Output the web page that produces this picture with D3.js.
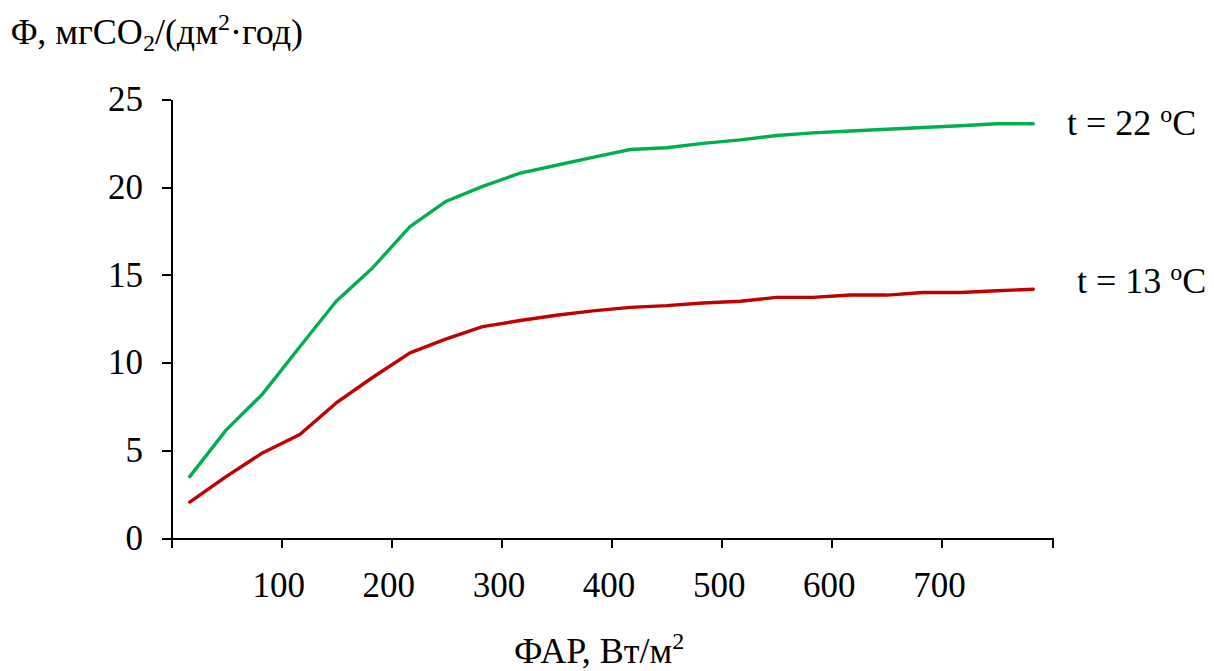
<!DOCTYPE html>
<meta charset="UTF-8">
<style>
body { margin: 0; background: #fff; }
svg text { font-family: "Liberation Serif", "Times New Roman", serif; fill: #000; }
.axis path, .axis line { stroke: #000; stroke-width: 2px; shape-rendering: crispEdges; }
.axis text { font-size: 35px; font-family: "Liberation Serif", serif; }
.line { fill: none; stroke-width: 3.4px; stroke-linejoin: round; stroke-linecap: round; }
</style>
<body>
<script src="https://cdn.jsdelivr.net/npm/d3@7"></script>
<script>
// PAR values (W/m2) for each measurement
var par = [17, 50, 83, 117, 150, 183, 217, 250, 283, 317, 350, 383,
           417, 450, 483, 517, 550, 583, 617, 650, 683, 717, 750, 783];
// photosynthesis, mg CO2/(dm2 h)
var phi22 = [3.5, 6.15, 8.2, 10.9, 13.5, 15.4, 17.75, 19.2, 20.05, 20.8, 21.25, 21.7,
             22.15, 22.25, 22.5, 22.7, 22.95, 23.1, 23.2, 23.3, 23.4, 23.5, 23.62, 23.62];
var phi13 = [2.05, 3.5, 4.85, 5.9, 7.7, 9.15, 10.55, 11.35, 12.05, 12.4, 12.7, 12.95,
             13.15, 13.25, 13.4, 13.5, 13.72, 13.72, 13.85, 13.85, 14.0, 14.0, 14.1, 14.18];
var xTicks = [0, 100, 200, 300, 400, 500, 600, 700, 800];
var yTicks = [0, 5, 10, 15, 20, 25];

var W = 1214, H = 671;
var svg = d3.select("body").append("svg").attr("width", W).attr("height", H);

var x = d3.scaleLinear().domain([0, 800]).range([171, 1052]);
var y = d3.scaleLinear().domain([0, 25]).range([538, 99.5]);

// x axis
svg.append("g")
    .attr("class", "axis")
    .attr("transform", "translate(0," + y(0) + ")")
    .call(d3.axisBottom(x).tickValues(xTicks).tickSize(10).tickSizeOuter(0).tickPadding(24)
      .tickFormat(function(d) { return (d == 0 || d == 800) ? "" : d; }));
svg.selectAll(".axis text").attr("dx", -3);

// y axis
svg.append("g")
    .attr("class", "axis")
    .attr("transform", "translate(" + x(0) + ",0)")
    .call(d3.axisLeft(y).tickValues(yTicks).tickSize(9).tickSizeOuter(0).tickPadding(19));

svg.selectAll(".axis path.domain").attr("fill", "none");

var series = [
  {vals: phi22, color: "#00b050"},
  {vals: phi13, color: "#c00000"}
];

var line = d3.line()
    .x(function(d) { return x(d[0]); })
    .y(function(d) { return y(d[1]); });

series.forEach(function(s) {
  svg.append("path")
      .attr("class", "line")
      .attr("stroke", s.color)
      .attr("d", line(par.map(function(p, i) { return [p, s.vals[i]]; })));
});

// y axis title
var t = svg.append("text").attr("x", 11).attr("y", 44).attr("font-size", 36);
t.append("tspan").text("Φ, мгCO");
t.append("tspan").attr("font-size", 24).attr("dy", 7).text("2");
t.append("tspan").attr("dy", -7).text("/(дм");
t.append("tspan").attr("font-size", 24).attr("dy", -14).text("2");
t.append("tspan").attr("dy", 14).text("·год)");

// x axis title
var tx = svg.append("text").attr("x", 514).attr("y", 663).attr("font-size", 36);
tx.append("tspan").text("ФАР, Вт/м");
tx.append("tspan").attr("font-size", 24).attr("dy", -14).text("2");

// series labels
function label(xp, yp, num) {
  var l = svg.append("text").attr("x", xp).attr("y", yp).attr("font-size", 36);
  l.append("tspan").text("t = " + num + " ");
  l.append("tspan").attr("font-size", 24).attr("dy", -13).text("o");
  l.append("tspan").attr("dy", 13).text("C");
}
label(1067, 135, "22");
label(1077, 293, "13");
</script>
</body>
